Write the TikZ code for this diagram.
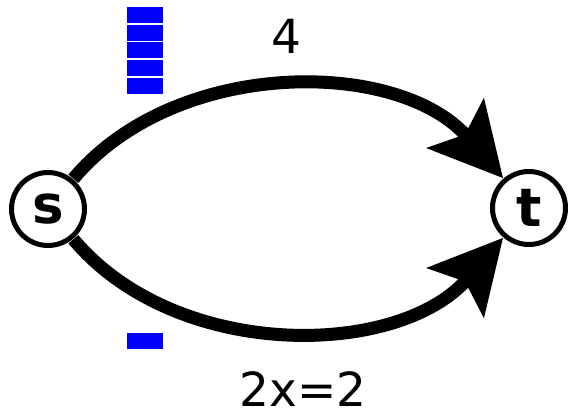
\documentclass[tikz,border=0pt]{standalone}
\usepackage{fontspec}
\setmainfont{DejaVu Sans}
\usetikzlibrary{arrows.meta}
\begin{document}
\begin{tikzpicture}[x=1pt,y=-1pt,
  vert/.style={circle,draw,line width=5pt,minimum size=73pt,inner sep=0pt,outer sep=3pt,font=\fontsize{53}{55}\selectfont\bfseries},
  edge/.style={line width=13pt,-{Stealth[length=72pt,width=74pt,inset=14pt]}},
  blk/.style={fill=blue},
  lbl/.style={font=\fontsize{47}{50}\selectfont,inner sep=0pt}]
\useasboundingbox (0,0) rectangle (570,415);
\node[vert] (s) at (48,209) {s};
\node[vert] (t) at (529,208) {t};
\draw[edge] (s) to[out=50,in=131,looseness=0.95] (t);
\draw[edge] (s) to[out=-50,in=-131,looseness=0.95] (t);
\foreach \i in {0,...,4}
  \fill[blk] (127,{7+\i*17.7}) rectangle (162.5,{23+\i*17.7});
\fill[blk] (127,333) rectangle (162.5,348.5);
\node[lbl] (w1) at (286,36) {4};
\node[lbl] (w2) at (303,389) {2x=2};
\end{tikzpicture}
\end{document}
